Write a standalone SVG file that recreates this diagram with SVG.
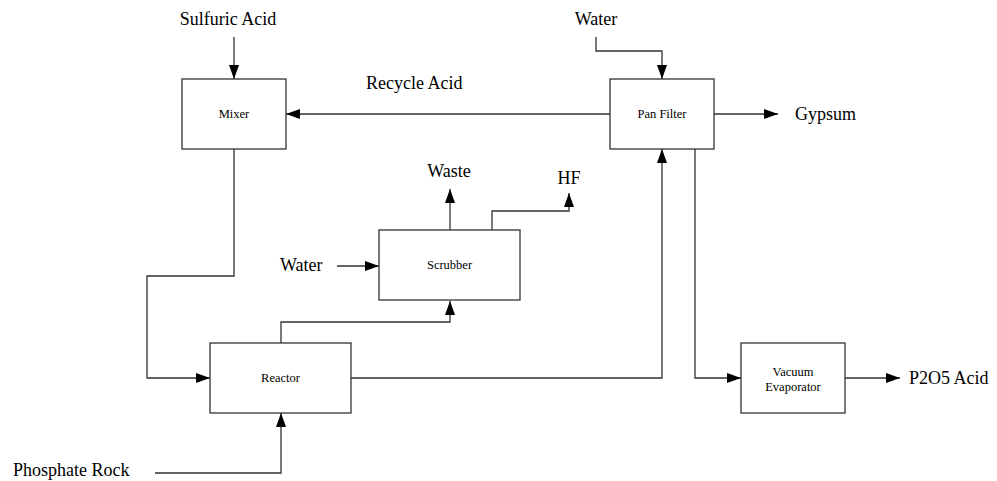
<svg xmlns="http://www.w3.org/2000/svg" width="997" height="481" viewBox="0 0 997 481">
<defs>
<marker id="ah" viewBox="0 0 14 10" refX="14" refY="5" markerWidth="14" markerHeight="10" markerUnits="userSpaceOnUse" orient="auto">
<path d="M0,0 L14,5 L0,10 Z" fill="#000"/>
</marker>
<style>
.box{fill:#fff;stroke:#333;stroke-width:1.3}
.ln{fill:none;stroke:#333;stroke-width:1.3;marker-end:url(#ah)}
.ln0{fill:none;stroke:#333;stroke-width:1.3}
.big{font-family:"Liberation Serif","Times New Roman",serif;font-size:18px;fill:#000}
.sm{font-family:"Liberation Serif","Times New Roman",serif;font-size:12.5px;fill:#000;text-anchor:middle}
</style>
</defs>
<rect width="997" height="481" fill="#fff"/>
<g id="connectors">
<path class="ln" d="M234,37 V79"/>
<path class="ln" d="M610,114 H286"/>
<path class="ln" d="M596,37 V51 H662 V79"/>
<path class="ln" d="M714,114 H778"/>
<path class="ln" d="M234,149 V276 H147 V378 H210"/>
<path class="ln" d="M155,473 H281 V413"/>
<path class="ln" d="M281,343 V322 H450 V301"/>
<path class="ln" d="M351,378 H662 V149"/>
<path class="ln" d="M450,230 V189"/>
<path class="ln" d="M492,230 V211 H569 V193"/>
<path class="ln" d="M337,266 H379"/>
<path class="ln" d="M695,149 V378 H741"/>
<path class="ln" d="M845,378 H900"/>
</g>
<g id="mixer"><rect class="box" x="182" y="79" width="104" height="70"/><text class="sm" x="234" y="118">Mixer</text></g>
<g id="pan-filter"><rect class="box" x="610" y="79" width="104" height="70"/><text class="sm" x="662" y="118">Pan Filter</text></g>
<g id="scrubber"><rect class="box" x="379" y="230" width="141" height="70"/><text class="sm" x="449.5" y="269">Scrubber</text></g>
<g id="reactor"><rect class="box" x="210" y="343" width="141" height="70"/><text class="sm" x="280.5" y="382">Reactor</text></g>
<g id="vacuum-evaporator"><rect class="box" x="741" y="343" width="104" height="70"/><text class="sm" x="793" y="376">Vacuum</text><text class="sm" x="793" y="391">Evaporator</text></g>
<g id="labels">
<text class="big" x="228" y="25" text-anchor="middle">Sulfuric Acid</text>
<text class="big" x="366" y="89">Recycle Acid</text>
<text class="big" x="596" y="25" text-anchor="middle">Water</text>
<text class="big" x="795" y="120">Gypsum</text>
<text class="big" x="449" y="177" text-anchor="middle">Waste</text>
<text class="big" x="569" y="184" text-anchor="middle">HF</text>
<text class="big" x="280" y="271">Water</text>
<text class="big" x="909" y="384">P2O5 Acid</text>
<text class="big" x="13" y="476">Phosphate Rock</text>
</g>
</svg>
